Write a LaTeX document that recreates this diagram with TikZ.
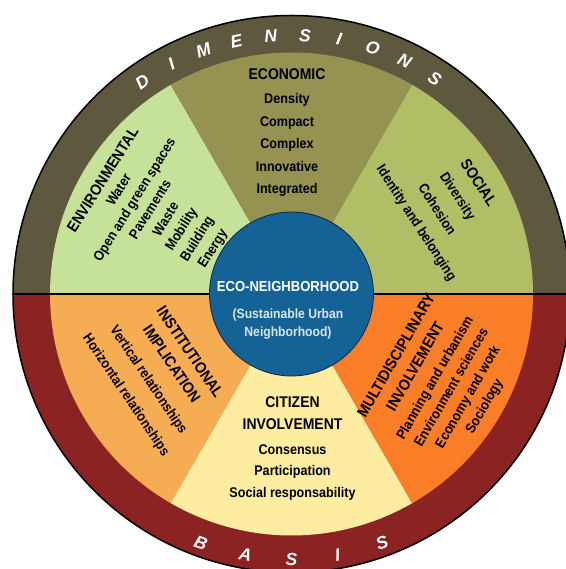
\documentclass[tikz,border=0pt]{standalone}
\usepackage{fontspec}
\setmainfont[FakeStretch=0.9]{Liberation Sans}
\newfontfamily\ringfont{Liberation Sans}
\usepackage{tikz}
\definecolor{dimcol}{RGB}{93,88,62}
\definecolor{basiscol}{RGB}{139,35,35}
\definecolor{envcol}{RGB}{198,226,152}
\definecolor{ecocol}{RGB}{150,146,82}
\definecolor{soccol}{RGB}{178,190,102}
\definecolor{instcol}{RGB}{246,172,82}
\definecolor{citcol}{RGB}{254,236,160}
\definecolor{multicol}{RGB}{250,126,40}
\definecolor{hubcol}{RGB}{20,98,150}
\definecolor{hubline}{RGB}{10,40,70}
\definecolor{hubtext}{RGB}{215,230,245}
\newcommand{\blocktitle}[1]{{\fontsize{15.5}{15.5}\selectfont #1}}
\tikzstyle{letter} = [text=white, inner sep=0pt, font=\ringfont\bfseries\itshape\fontsize{17.5}{17.5}\selectfont]
\tikzstyle{block} = [align=center, inner sep=0pt, font=\bfseries\fontsize{14}{22.5}\selectfont]

\begin{document}
\begin{tikzpicture}[x=1pt, y=1pt]
        \useasboundingbox (-291.5,-275) rectangle (273.5,294);
        % rings
        \fill[dimcol] (0,0) -- (0:278.5) arc (0:180:278.5) -- cycle;
        \fill[basiscol] (0,0) -- (180:278.5) arc (180:360:278.5) -- cycle;
        % sectors
        \fill[envcol] (0,0) -- (120:241.5) arc (120:180:241.5) -- cycle;
        \fill[ecocol] (0,0) -- (60:241.5) arc (60:120:241.5) -- cycle;
        \fill[soccol] (0,0) -- (0:241.5) arc (0:60:241.5) -- cycle;
        \fill[instcol] (0,0) -- (180:241.5) arc (180:240:241.5) -- cycle;
        \fill[citcol] (0,0) -- (240:241.5) arc (240:300:241.5) -- cycle;
        \fill[multicol] (0,0) -- (300:241.5) arc (300:360:241.5) -- cycle;
        \draw[line width=1.5pt] (0,0) circle (278.5);
        \draw[line width=1.5pt] (180:278.5) -- (0:278.5);
        \node (hub) [circle, fill=hubcol, draw=hubline, line width=0.8pt, minimum size=164pt, inner sep=0pt] at (0,0) {};
        \node (hubname) [block, text=white, font=\bfseries\fontsize{14.5}{14.5}\selectfont] at (-3.5,7.5) {ECO-NEIGHBORHOOD};
        \node (hubsub) [block, text=hubtext, font=\bfseries\fontsize{13.5}{18}\selectfont] at (-3.5,-30) {(Sustainable Urban\\Neighborhood)};
        % dimensions
        \node (d1) [letter, rotate=35.2] at (125.2:259) {D};
        \node (d2) [letter, rotate=27.6] at (117.6:259) {I};
        \node (d3) [letter, rotate=19.9] at (109.9:259) {M};
        \node (d4) [letter, rotate=12.3] at (102.3:259) {E};
        \node (d5) [letter, rotate=4.6] at (94.6:259) {N};
        \node (d6) [letter, rotate=-3] at (87:259) {S};
        \node (d7) [letter, rotate=-10.6] at (79.4:259) {I};
        \node (d8) [letter, rotate=-18.3] at (71.7:259) {O};
        \node (d9) [letter, rotate=-25.9] at (64.1:259) {N};
        \node (d10) [letter, rotate=-33.6] at (56.4:259) {S};
        % basis
        \node (b1) [letter, rotate=-20] at (250:265) {B};
        \node (b2) [letter, rotate=-10] at (260:265) {A};
        \node (b3) [letter] at (270:265) {S};
        \node (b4) [letter, rotate=10] at (280:265) {I};
        \node (b5) [letter, rotate=20] at (290:265) {S};
        % sector texts
        \node (economic) [block] at (-4.5,161) {\blocktitle{ECONOMIC}\\[1.5pt]Density\\Compact\\Complex\\Innovative\\Integrated};
        \node (environmental) [block, font=\bfseries\fontsize{14}{18.4}\selectfont, rotate=58] at (149.2:155) {\blocktitle{ENVIRONMENTAL}\\Water\\Open and green spaces\\Pavements\\Waste\\Mobility\\Building\\Energy};
        \node (social) [block, font=\bfseries\fontsize{14}{24.4}\selectfont, rotate=-57] at (30.3:180) {\blocktitle{SOCIAL}\\Diversity\\Cohesion\\Identity and belonging};
        \node (institutional) [block, font=\bfseries\fontsize{14}{27}\selectfont, rotate=-56] at (210.8:156) {\blocktitle{INSTITUTIONAL}\\[-5pt]\blocktitle{IMPLICATION}\\Vertical relationships\\Horizontal relationships};
        \node (citizen) [block, font=\bfseries\fontsize{14}{21.5}\selectfont] at (1,-154.5) {\blocktitle{CITIZEN}\\\blocktitle{INVOLVEMENT}\\[3.5pt]Consensus\\Participation\\Social responsability};
        \node (multidisciplinary) [block, font=\bfseries\fontsize{14}{19}\selectfont, rotate=60] at (-30.3:173) {\blocktitle{MULTIDISCIPLINARY}\\[3pt]\blocktitle{INVOLVEMENT}\\[3pt]Planning and urbanism\\Environment sciences\\Economy and work\\Sociology};
\end{tikzpicture}
\end{document}
